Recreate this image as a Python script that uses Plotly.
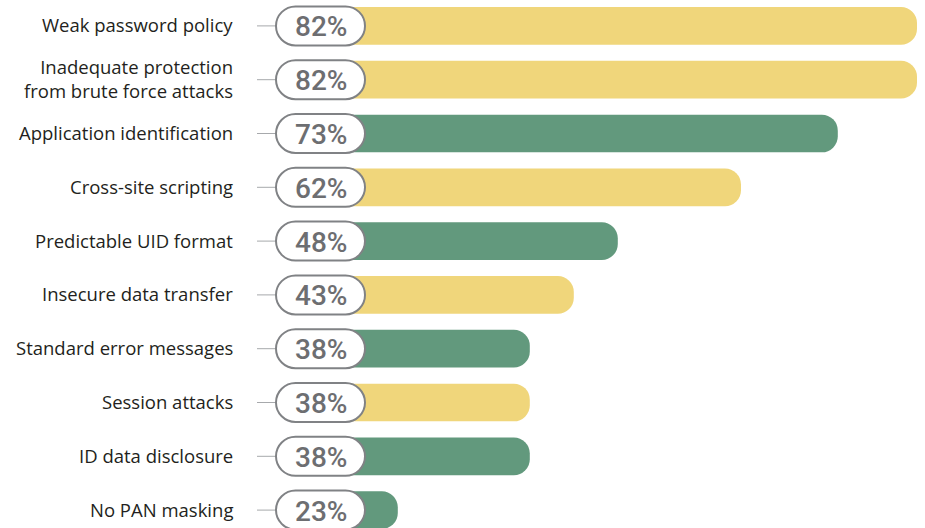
import plotly.graph_objects as go

# Findings, top to bottom
categories = [
    "Weak password policy",
    "Inadequate protection<br>from brute force attacks",
    "Application identification",
    "Cross-site scripting",
    "Predictable UID format",
    "Insecure data transfer",
    "Standard error messages",
    "Session attacks",
    "ID data disclosure",
    "No PAN masking",
]
shares = [82, 82, 73, 62, 48, 43, 38, 38, 38, 23]
groups = ["y", "y", "g", "y", "g", "y", "g", "y", "g", "g"]

YELLOW = "#F0D67B"
GREEN = "#62997D"
PILL_EDGE = "#808285"
PCT_GREY = "#6D6E71"
LABEL = "#231F20"

W, H = 925, 528
rows = list(range(len(categories)))

# pixel geometry of the row band and label pills
ROW0, PITCH = 25.9, 53.8
PILL_L, PILL_R, PILL_HALF = 276, 365, 19.5
K = 0.5523


def pill_path(left, right, half):
    """Closed capsule outline in pixels, relative to the row centre (y up)."""
    r = half
    a, b = left + r, right - r
    return (
        f"M{a},{half} L{b},{half} "
        f"C{b + K * r},{half} {right},{K * r} {right},0 "
        f"C{right},{-K * r} {b + K * r},{-half} {b},{-half} "
        f"L{a},{-half} "
        f"C{a - K * r},{-half} {left},{-K * r} {left},0 "
        f"C{left},{K * r} {a - K * r},{half} {a},{half} Z"
    )


fig = go.Figure(
    go.Bar(
        y=rows,
        x=shares,
        orientation="h",
        width=0.7,
        marker=dict(color=[YELLOW if g == "y" else GREEN for g in groups], line_width=0),
        hoverinfo="skip",
    )
)

shapes = []
annotations = []
path = pill_path(PILL_L, PILL_R, PILL_HALF)
for i, (cat, v) in enumerate(zip(categories, shares)):
    # connector tick between label and pill
    shapes.append(dict(
        type="line", xref="paper", yref="y",
        x0=257 / W, x1=PILL_L / W, y0=i, y1=i,
        line=dict(color="#A7A9AC", width=1), layer="above",
    ))
    # capsule holding the value
    shapes.append(dict(
        type="path", xref="paper", yref="y",
        xsizemode="pixel", ysizemode="pixel", xanchor=0, yanchor=i,
        path=path, fillcolor="white",
        line=dict(color=PILL_EDGE, width=2), layer="above",
    ))
    annotations.append(dict(
        xref="paper", yref="y", x=(PILL_L + PILL_R + 1) / 2 / W, y=i,
        text=f"{v}%", showarrow=False, xanchor="center", yanchor="middle",
        font=dict(family="Roboto, Liberation Sans, sans-serif",
                  size=28, color=PCT_GREY, weight=500),
        yshift=-1,
    ))
    annotations.append(dict(
        xref="paper", yref="y", x=235 / W, y=i,
        text=cat, showarrow=False, xanchor="right", yanchor="middle", align="right",
        font=dict(family="Open Sans, sans-serif", size=18.5, color=LABEL),
        yshift=1,
    ))

# x scale: value -> pixel 195.4 + 8.8*v, plot area from pixel 330 to the right edge
x_left, x_right = 330, W
x0 = (x_left - 195.4) / 8.8
x1 = (x_right - 195.4) / 8.8

fig.update_layout(
    width=W, height=H,
    margin=dict(l=0, r=0, t=0, b=0),
    paper_bgcolor="white", plot_bgcolor="white",
    showlegend=False,
    barcornerradius=16,
    xaxis=dict(domain=[x_left / W, 1], range=[x0, x1], visible=False, fixedrange=True),
    yaxis=dict(range=[(H - ROW0) / PITCH, -ROW0 / PITCH], visible=False, fixedrange=True),
    shapes=shapes,
    annotations=annotations,
)

fig.write_html("out.html")
